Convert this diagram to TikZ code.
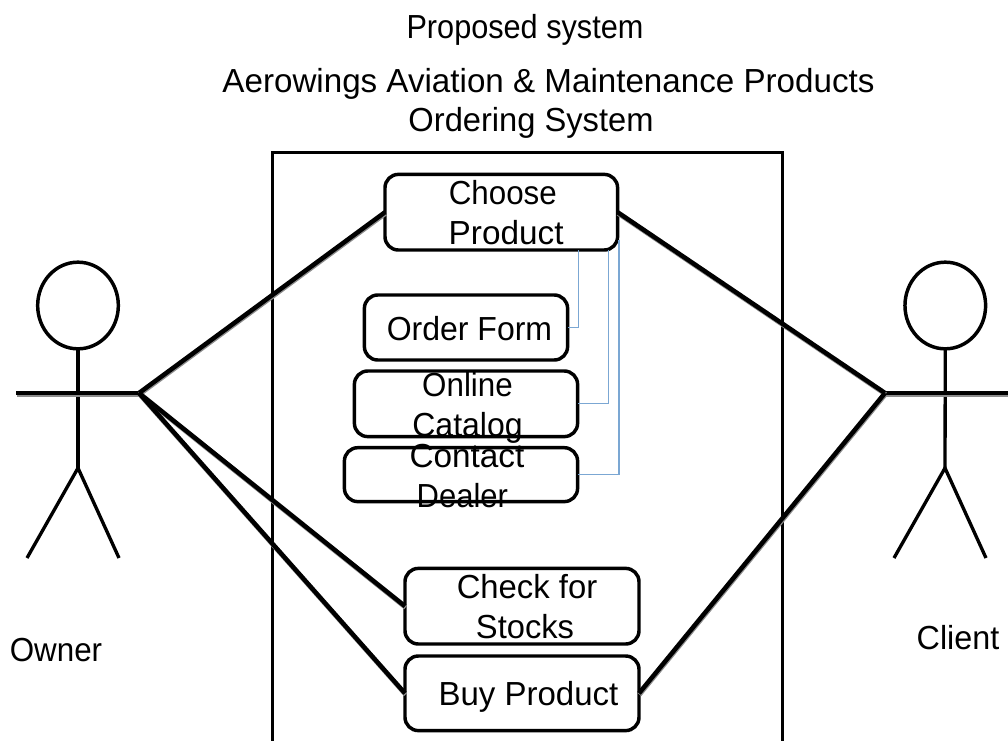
\documentclass[tikz,border=0pt]{standalone}
\usepackage{fontspec}
\setmainfont{Liberation Sans}
\usetikzlibrary{calc,shapes.geometric}
\newcommand{\tfont}{\fontsize{25}{30}\selectfont}
\newcommand{\st}[2]{{\addfontfeature{FakeStretch=#1}#2}}
\definecolor{bl}{HTML}{7BA7D3}
\tikzset{
  x=0.75pt,y=-0.75pt,
  ucbox/.style={draw=black,line width=2.6pt,rounded corners=10pt,fill=white,inner sep=0pt,outer sep=0pt,anchor=north west},
  txt/.style={font=\tfont,align=center,inner sep=0pt,text=black},
  link/.style={draw=black,line width=3.4pt,preaction={draw=black!45,line width=3.4pt,transform canvas={shift={(0.4pt,-1pt)}}}},
  limb/.style={draw=black,line width=2.5pt},
  head/.style={draw=black,line width=2.6pt,ellipse,minimum width=60.5pt,minimum height=65pt,inner sep=0pt,outer sep=0pt},
  bluelink/.style={draw=bl,line width=0.9pt},
}
\newcommand{\ucnode}[7]{%
  \node[ucbox,minimum width={(#4-#2)*0.75pt},minimum height={(#5-#3)*0.75pt}] (#1) at (#2,#3) {};
  \node[txt] (#1t) at ($(#1.center)+(#6)$) {#7};
}
\begin{document}
\begin{tikzpicture}
\useasboundingbox (0,0) rectangle (1008,740);
\clip (0,0) rectangle (1008,740);
\fill[white] (0,0) rectangle (1008,740);
\node[txt] (title1) at (525,30) {\st{0.92}{Proposed system}};
\node[txt] (title2) at (548.5,83.5) {\st{0.995}{Aerowings Aviation \& Maintenance Products}};
\node[txt] (title3) at (531,123) {\st{0.98}{Ordering System}};
\node[draw=black,line width=2.5pt,inner sep=0pt,outer sep=0pt,anchor=north west,minimum width=382.3pt,minimum height=450pt] (sys) at (272.5,152.5) {};
% actors
\coordinate (ownerhand) at (139,393);
\coordinate (ownerleft) at (16,393);
\coordinate (clienthand) at (885,393);
\coordinate (clientright) at (1012,393);
\node[head] (ownerhead) at (78,305.5) {};
\node[head] (clienthead) at (945.3,305.5) {};
\coordinate (ownerhip) at (78,468);
\coordinate (clienthip) at (945,468);
\coordinate (ol) at (27,558); \coordinate (or) at (119,558);
\coordinate (cl) at (894,558); \coordinate (cr) at (986,558);
\draw[limb] (ownerhead.south) -- (ownerhip);
\draw[limb] (ol) -- (ownerhip) -- (or);
\draw[limb] (clienthead.south) -- (clienthip);
\draw[limb] (cl) -- (clienthip) -- (cr);
\draw[link] (ownerleft) -- (ownerhand);
\draw[link] (clienthand) -- (clientright);
\ucnode{cp}{385}{174.4}{617.6}{250}{1.5,0}{\st{0.94}{Choose}\\\hspace*{5pt}Product}
\ucnode{of}{364.4}{295}{567.6}{360}{3.5,1}{\st{0.96}{Order Form}}
\ucnode{oc}{354.4}{371}{577.6}{436.6}{1.5,4}{\st{0.94}{Online}\\\st{0.96}{Catalog}}
\ucnode{cd}{344.4}{447.7}{577.6}{501.6}{6,1}{Contact\\\st{0.93}{Dealer}\hspace*{7pt}}
\ucnode{cs}{405}{568.4}{639}{644}{5,0}{\st{0.985}{Check for}\\\st{0.98}{Stocks}\hspace*{3pt}}
\ucnode{bp}{405}{656}{639}{730.6}{6.5,4}{\st{0.99}{Buy Product}}
\draw[link] (ownerhand) -- (cp.west);
\draw[link] (ownerhand) -- (cs.west);
\draw[link] (ownerhand) -- (bp.west);
\draw[link] (clienthand) -- (cp.east);
\draw[link] (clienthand) -- (bp.east);
\coordinate (b1) at (578.3,250);
\coordinate (b2) at (608.7,250);
\coordinate (b3) at (619,240);
\draw[bluelink] (b1) |- (of.east);
\draw[bluelink] (b2) |- (oc.east);
\draw[bluelink] (b3) |- (cd.east);
\node[txt] (owner) at (56,650) {\st{0.94}{Owner}};
\node[txt] (client) at (958,638) {\st{0.97}{Client}};
\end{tikzpicture}
\end{document}
